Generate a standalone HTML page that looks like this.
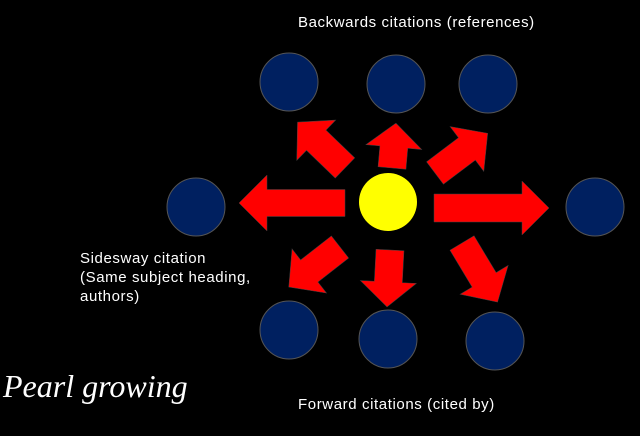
<!DOCTYPE html>
<html><head><style>
html,body{margin:0;padding:0;background:#000;}
svg{display:block;}
</style></head><body>
<svg width="640" height="436" viewBox="0 0 640 436" xmlns="http://www.w3.org/2000/svg">
<rect width="640" height="436" fill="#000"/>
<g fill="#002060" stroke="#555" stroke-width="1">
<circle cx="289" cy="82" r="29"/>
<circle cx="396" cy="84" r="29"/>
<circle cx="488" cy="84" r="29"/>
<circle cx="196" cy="207" r="29"/>
<circle cx="595" cy="207" r="29"/>
<circle cx="289" cy="330" r="29"/>
<circle cx="388" cy="339" r="29"/>
<circle cx="495" cy="341" r="29"/>
</g>
<circle cx="388" cy="202" r="29" fill="#ffff00"/>
<g fill="#ff0000" stroke="#444" stroke-width="0.5">
<g transform="translate(345,203) rotate(180)"><polygon points="0,-13.5 78,-13.5 78,-28 106,0 78,28 78,13.5 0,13.5"/></g>
<g transform="translate(434,208)"><polygon points="0,-14 88,-14 88,-27 115,0 88,27 88,14 0,14"/></g>
<g transform="translate(392,168) rotate(-85)"><polygon points="0,-14 21,-14 21,-28 45,0 21,28 21,14 0,14"/></g>
<g transform="translate(390,250) rotate(93)"><polygon points="0,-14 32,-14 32,-28 57,0 32,28 32,14 0,14"/></g>
<g transform="translate(345,168) rotate(-136)"><polygon points="0,-14 40,-14 40,-28 66,0 40,28 40,14 0,14"/></g>
<g transform="translate(435,173) rotate(-37)"><polygon points="0,-14 40,-14 40,-28 66,0 40,28 40,14 0,14"/></g>
<g transform="translate(340,247) rotate(142)"><polygon points="0,-14 39,-14 39,-28 65,0 39,28 39,14 0,14"/></g>
<g transform="translate(462,243) rotate(59)"><polygon points="0,-14 43,-14 43,-28 69,0 43,28 43,14 0,14"/></g>
</g>
<g fill="#fff" font-family="Liberation Sans, sans-serif" font-size="15" letter-spacing="0.6">
<text x="298" y="27">Backwards citations (references)</text>
<text x="80" y="263">Sidesway citation</text>
<text x="80" y="282">(Same subject heading,</text>
<text x="80" y="301">authors)</text>
<text x="298" y="409">Forward citations (cited by)</text>
</g>
<text x="3" y="397" fill="#fff" font-family="Liberation Serif, serif" font-style="italic" font-size="32">Pearl growing</text>
</svg>
</body></html>
